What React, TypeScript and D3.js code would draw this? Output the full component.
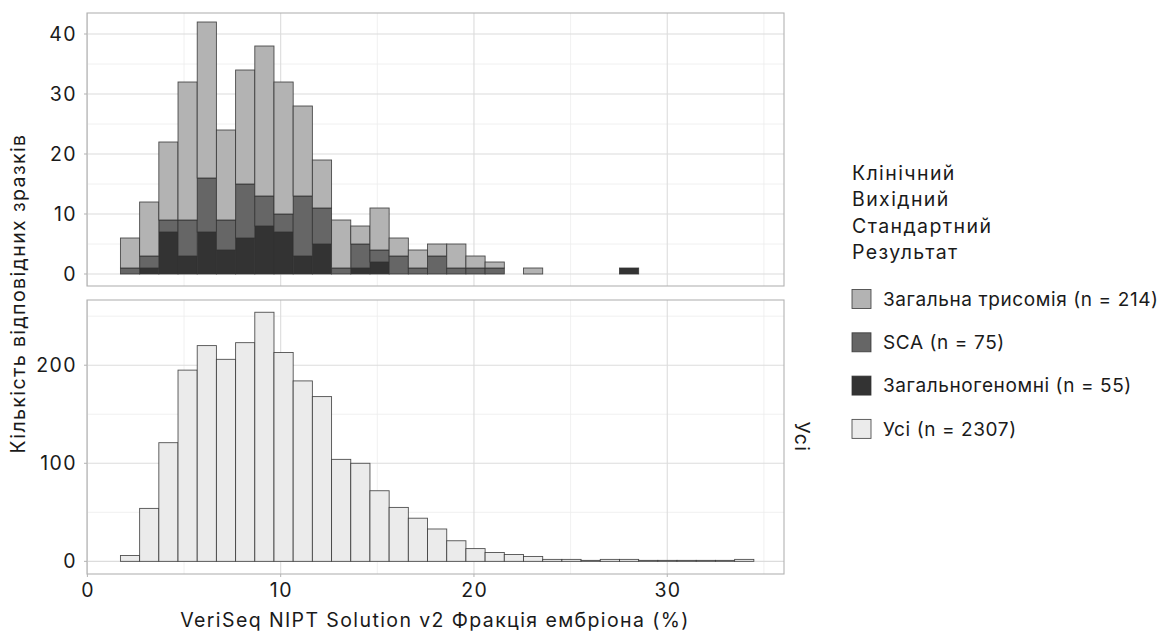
import React from "react";
import * as d3 from "d3";

// ---- data ----
const BIN_START = 1.71;
const BIN_WIDTH = 0.993;
const BIN_COUNT = 33;

// stacked counts per bin (top panel)
const genomeWide = [0, 1, 7, 3, 7, 4, 6, 8, 7, 3, 5, 0, 1, 2, 0, 0, 0, 0, 0, 0, 0, 0, 0, 0, 0, 0, 1, 0, 0, 0, 0, 0, 0];
const sca = [1, 2, 2, 6, 9, 5, 9, 5, 3, 10, 6, 1, 4, 2, 3, 1, 3, 1, 1, 1, 0, 0, 0, 0, 0, 0, 0, 0, 0, 0, 0, 0, 0];
const trisomy = [5, 9, 13, 23, 26, 15, 19, 25, 22, 15, 8, 8, 3, 7, 3, 3, 2, 4, 2, 1, 0, 1, 0, 0, 0, 0, 0, 0, 0, 0, 0, 0, 0];
// all samples (bottom panel)
const allSamples = [6, 54, 121, 195, 220, 206, 223, 254, 213, 184, 168, 104, 100, 72, 55, 44, 33, 21, 13, 9, 7, 5, 2, 2, 1, 2, 2, 1, 1, 1, 1, 1, 2];

const xTicks = [0, 10, 20, 30];
const xMinor = [5, 15, 25, 35];
const topTicks = [0, 10, 20, 30, 40];
const topMinor = [5, 15, 25, 35];
const bottomTicks = [0, 100, 200];
const bottomMinor = [50, 150, 250];

const legendTitle = ["Клінічний", "Вихідний", "Стандартний", "Результат"];
const legendLabels = ["Загальна трисомія (n = 214)", "SCA (n = 75)", "Загальногеномні (n = 55)", "Усі (n = 2307)"];
const legendColors = ["#b3b3b3", "#666666", "#333333", "#ebebeb"];
const stripLabel = "Усі";
const xTitle = "VeriSeq NIPT Solution v2 Фракція ембріона (%)";
const yTitle = "Кількість відповідних зразків";

const W = 1158;
const H = 632;
const FONT = "Inter, 'Noto Sans', sans-serif";
const FS = 19.5;
const LS = 1.4;

export default function App() {
  const left = 87, right = 784;
  const topP = { y0: 13, y1: 286 };
  const botP = { y0: 300, y1: 574 };
  const x = d3.scaleLinear().domain([-0.02, 36.04]).range([left, right]);
  const yTop = d3.scaleLinear().domain([-2.0, 43.5]).range([topP.y1, topP.y0]);
  const yBot = d3.scaleLinear().domain([-12.9, 266.5]).range([botP.y1, botP.y0]);

  const bins = d3.range(BIN_COUNT).map((i) => ({
    x0: BIN_START + i * BIN_WIDTH,
    x1: BIN_START + (i + 1) * BIN_WIDTH,
  }));

  const stackData = bins.map((b, i) => ({ i, g: genomeWide[i], s: sca[i], t: trisomy[i] }));
  const stack = d3.stack<any>().keys(["g", "s", "t"])(stackData as any);
  const stackColors: Record<string, string> = { g: "#333333", s: "#666666", t: "#b3b3b3" };

  const grid = (y: d3.ScaleLinear<number, number>, p: { y0: number; y1: number }, major: number[], minor: number[]) => (
    <g>
      <rect x={left} y={p.y0} width={right - left} height={p.y1 - p.y0} fill="#ffffff" />
      {minor.map((v) => (
        <line key={"hm" + v} x1={left} x2={right} y1={y(v)} y2={y(v)} stroke="#ececec" strokeWidth={0.8} />
      ))}
      {xMinor.map((v) => (
        <line key={"vm" + v} x1={x(v)} x2={x(v)} y1={p.y0} y2={p.y1} stroke="#ececec" strokeWidth={0.8} />
      ))}
      {major.map((v) => (
        <line key={"h" + v} x1={left} x2={right} y1={y(v)} y2={y(v)} stroke="#dcdcdc" strokeWidth={1.1} />
      ))}
      {xTicks.map((v) => (
        <line key={"v" + v} x1={x(v)} x2={x(v)} y1={p.y0} y2={p.y1} stroke="#dcdcdc" strokeWidth={1.1} />
      ))}
    </g>
  );

  const border = (p: { y0: number; y1: number }) => (
    <rect x={left} y={p.y0} width={right - left} height={p.y1 - p.y0} fill="none" stroke="#b3b3b3" strokeWidth={1.1} />
  );

  const txt = { fontSize: FS, fill: "#1a1a1a", letterSpacing: LS } as any;
  const legTxt = { fontSize: 19, fill: "#1a1a1a", letterSpacing: 0.6 } as any;

  return (
    <svg width={W} height={H} style={{ display: "block", position: "absolute", left: 0, top: 0 }} fontFamily={FONT}>
      <rect width={W} height={H} fill="#ffffff" />
      {grid(yTop, topP, topTicks, topMinor)}
      {grid(yBot, botP, bottomTicks, bottomMinor)}

      {/* top stacked bars */}
      <g>
        {stack.map((layer) =>
          layer.map((d, i) => (
            <rect
              key={layer.key + i}
              x={x(bins[i].x0)}
              width={x(bins[i].x1) - x(bins[i].x0)}
              y={yTop(d[1])}
              height={yTop(d[0]) - yTop(d[1])}
              fill={stackColors[layer.key]}
              stroke="#333333"
              strokeOpacity={0.85}
              strokeWidth={0.9}
            />
          ))
        )}
      </g>

      {/* bottom bars */}
      <g>
        {allSamples.map((v, i) => (
          <rect
            key={"b" + i}
            x={x(bins[i].x0)}
            width={x(bins[i].x1) - x(bins[i].x0)}
            y={yBot(v)}
            height={yBot(0) - yBot(v)}
            fill="#ebebeb"
            stroke="#333333"
            strokeOpacity={0.85}
            strokeWidth={0.9}
          />
        ))}
      </g>

      {border(topP)}
      {border(botP)}

      {/* y ticks */}
      {topTicks.map((v) => (
        <g key={"ty" + v}>
          <line x1={left - 3} x2={left} y1={yTop(v)} y2={yTop(v)} stroke="#b3b3b3" />
          <text x={left - 10} y={yTop(v)} dy="0.36em" textAnchor="end" {...txt}>{v}</text>
        </g>
      ))}
      {bottomTicks.map((v) => (
        <g key={"by" + v}>
          <line x1={left - 3} x2={left} y1={yBot(v)} y2={yBot(v)} stroke="#b3b3b3" />
          <text x={left - 10} y={yBot(v)} dy="0.36em" textAnchor="end" {...txt}>{v}</text>
        </g>
      ))}
      {/* x ticks */}
      {xTicks.map((v) => (
        <g key={"tx" + v}>
          <line x1={x(v)} x2={x(v)} y1={botP.y1} y2={botP.y1 + 3} stroke="#b3b3b3" />
          <text x={x(v) + LS / 2} y={botP.y1 + 23} textAnchor="middle" {...txt}>{v}</text>
        </g>
      ))}

      {/* axis titles */}
      <text x={435} y={627} textAnchor="middle" {...txt}>{xTitle}</text>
      <text transform={`translate(25, ${(topP.y0 + botP.y1) / 2}) rotate(-90)`} textAnchor="middle" {...txt}>{yTitle}</text>

      {/* strip */}
      <text transform={`translate(795, ${(botP.y0 + botP.y1) / 2}) rotate(90)`} textAnchor="middle" {...txt}>{stripLabel}</text>

      {/* legend */}
      <g>
        {legendTitle.map((t, i) => (
          <text key={t} x={852} y={180 + i * 26.3} {...txt}>{t}</text>
        ))}
        {legendLabels.map((t, i) => (
          <g key={t} transform={`translate(852, ${299 + i * 43.3})`}>
            <rect x={0} y={-9.5} width={19} height={19} fill={legendColors[i]} stroke="#333333" strokeOpacity={0.85} strokeWidth={0.9} />
            <text x={31} y={0} dy="0.36em" {...legTxt}>{t}</text>
          </g>
        ))}
      </g>
    </svg>
  );
}
